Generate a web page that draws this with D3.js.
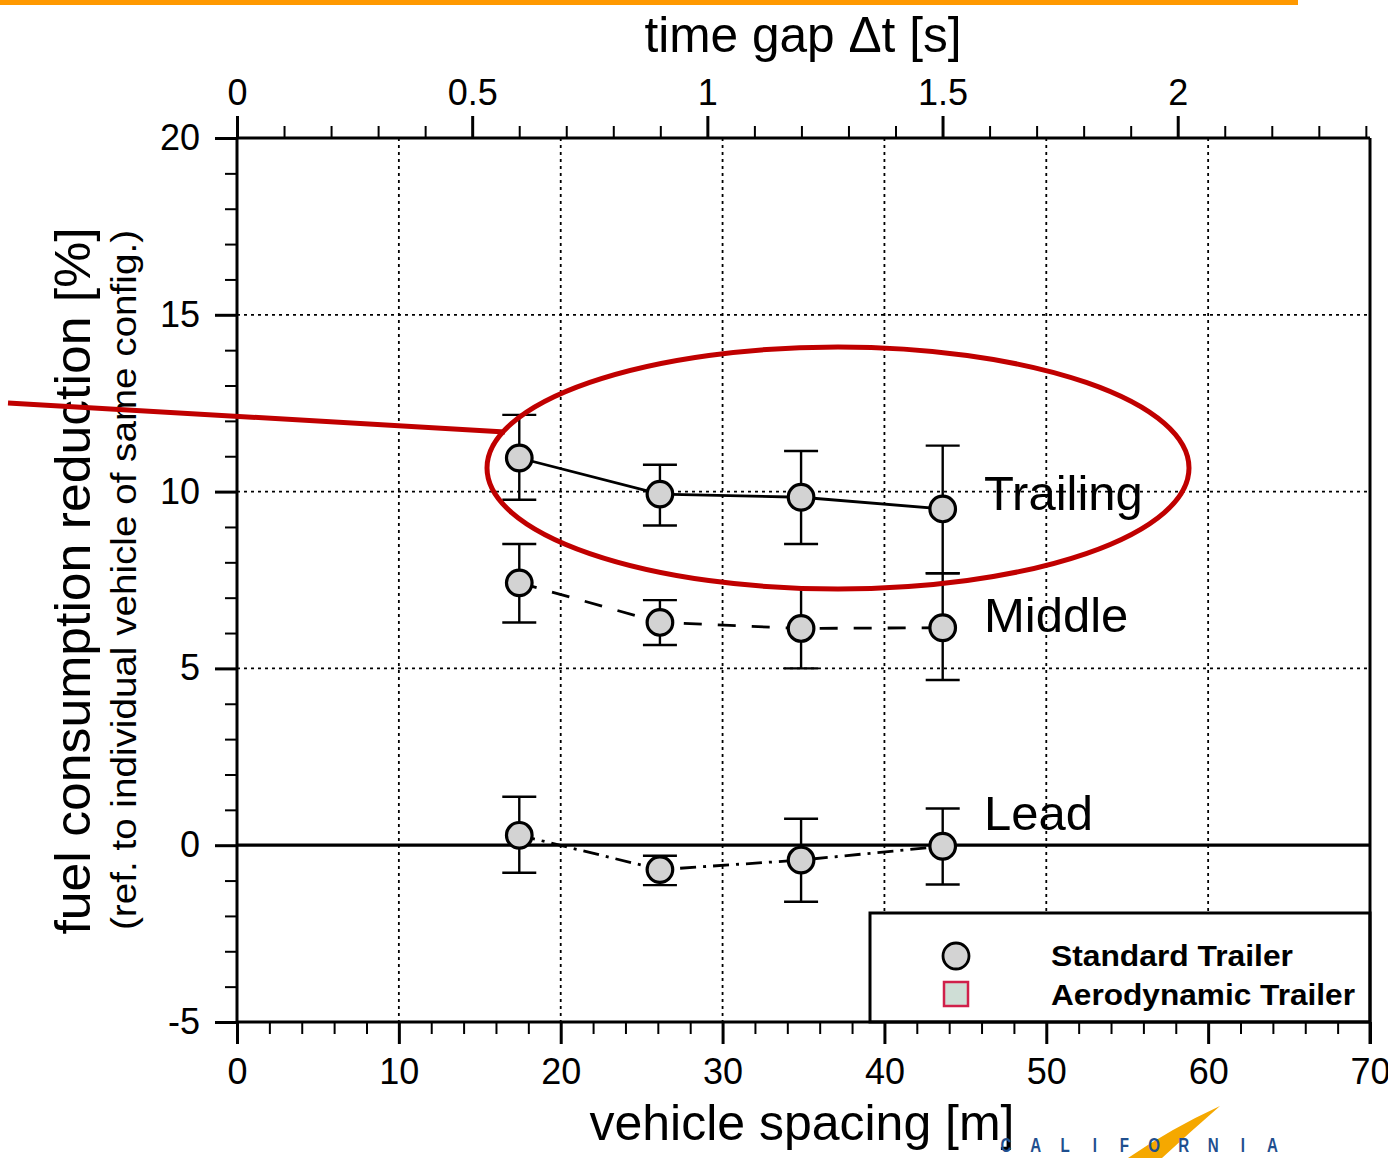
<!DOCTYPE html>
<html><head><meta charset="utf-8">
<script src="https://cdn.jsdelivr.net/npm/d3@7"></script>
<style>body{margin:0;background:#fff}svg{display:block}text{font-family:"Liberation Sans",Arial,sans-serif}</style>
</head><body>
<svg id="c" width="1388" height="1158"></svg>
<script>
// ---------- data ----------
const spacing = [17.44, 26.13, 34.85, 43.6];          // vehicle spacing [m]
const seriesNames = ["Trailing", "Middle", "Lead"];
const trailing   = [10.95, 9.93, 9.84, 9.51];
const trailingHi = [12.17, 10.76, 11.15, 11.30];
const trailingLo = [9.77, 9.04, 8.52, 7.69];
const middle   = [7.42, 6.30, 6.13, 6.15];
const middleHi = [8.52, 6.93, 7.25, 7.69];
const middleLo = [6.30, 5.66, 5.00, 4.67];
const lead   = [0.28, -0.69, -0.42, -0.03];
const leadHi = [1.37, -0.30, 0.75, 1.04];
const leadLo = [-0.78, -1.13, -1.60, -1.11];
const xTicks = [0, 10, 20, 30, 40, 50, 60, 70];
const yTicks = [-5, 0, 5, 10, 15, 20];
const tTicks = [0, 0.5, 1, 1.5, 2];
const legendLabels = ["Standard Trailer", "Aerodynamic Trailer"];
const speed = 29.06; // m/s (65 mph) relating spacing and time gap
const logoLetters = ["C","A","L","I","F","O","R","N","I","A"];

// ---------- scales ----------
const svg = d3.select("#c");
const x = d3.scaleLinear().domain([0, 70]).range([237, 1370]);
const xt = d3.scaleLinear().domain([0, 70 / speed]).range([237, 1370]);
const y = d3.scaleLinear().domain([-5, 20]).range([1022, 138]);

// top orange bar
svg.append("rect").attr("x", 0).attr("y", 0).attr("width", 1298).attr("height", 5).attr("fill", "#ff9900");

// ---------- grid ----------
const grid = svg.append("g").attr("stroke", "#000").attr("stroke-width", 1.8).attr("stroke-dasharray", "3,4");
grid.selectAll("line.v").data(xTicks.filter(d => d > 0 && d < 70)).join("line")
  .attr("x1", d => x(d)).attr("x2", d => x(d)).attr("y1", y(20)).attr("y2", y(-5));
grid.selectAll("line.h").data(yTicks.filter(d => d > 0 && d < 20)).join("line")
  .attr("x1", x(0)).attr("x2", x(70)).attr("y1", d => y(d)).attr("y2", d => y(d));

// zero line
svg.append("line").attr("x1", x(0)).attr("x2", x(70)).attr("y1", y(0)).attr("y2", y(0))
  .attr("stroke", "#000").attr("stroke-width", 3.2);

// ---------- legend box (white, above grid) ----------
svg.append("rect").attr("x", 870).attr("y", 913).attr("width", 500).attr("height", 109)
  .attr("fill", "#fff").attr("stroke", "#000").attr("stroke-width", 3);

// ---------- axes ----------
function styleAxis(g, major) {
  g.select(".domain").remove();
  g.selectAll(".tick line").attr("stroke", "#000").attr("stroke-width", major ? 3 : 2);
  g.selectAll(".tick text").attr("fill", "#000").style("font-size", "36px").style("font-family", "Liberation Sans, Arial, sans-serif");
}
const minorX = d3.range(0, 70.01, 2).filter(d => d % 10 !== 0);
const minorY = d3.range(-5, 20.01, 1).filter(d => d % 5 !== 0);
const minorT = d3.range(0, 70 / speed, 0.1).map(d => Math.round(d * 10) / 10).filter(d => Math.abs(d * 2 - Math.round(d * 2)) > 1e-6);

svg.append("g").attr("transform", `translate(0,${y(-5)})`)
  .call(d3.axisBottom(x).tickValues(minorX).tickSize(12).tickFormat("")).call(g => styleAxis(g, false));
svg.append("g").attr("transform", `translate(0,${y(-5)})`)
  .call(d3.axisBottom(x).tickValues(xTicks).tickSize(22).tickPadding(14).tickFormat(d => String(d))).call(g => styleAxis(g, true));

svg.append("g").attr("transform", `translate(${x(0)},0)`)
  .call(d3.axisLeft(y).tickValues(minorY).tickSize(12).tickFormat("")).call(g => styleAxis(g, false));
svg.append("g").attr("transform", `translate(${x(0)},0)`)
  .call(d3.axisLeft(y).tickValues(yTicks).tickSize(22).tickPadding(15).tickFormat(d => String(d))).call(g => styleAxis(g, true));

svg.append("g").attr("transform", `translate(0,${y(20)})`)
  .call(d3.axisTop(xt).tickValues(minorT).tickSize(12).tickFormat("")).call(g => styleAxis(g, false));
svg.append("g").attr("transform", `translate(0,${y(20)})`)
  .call(d3.axisTop(xt).tickValues(tTicks).tickSize(22).tickPadding(11).tickFormat(d => String(d))).call(g => styleAxis(g, true));

// frame lines
const frame = svg.append("g").attr("stroke", "#000").attr("stroke-width", 3).attr("fill", "none");
frame.append("line").attr("x1", x(0)).attr("x2", x(70)).attr("y1", y(20)).attr("y2", y(20));
frame.append("line").attr("x1", x(0)).attr("x2", x(70)).attr("y1", y(-5)).attr("y2", y(-5));
frame.append("line").attr("x1", x(0)).attr("x2", x(0)).attr("y1", y(20)).attr("y2", y(-5));
frame.append("line").attr("x1", x(70)).attr("x2", x(70)).attr("y1", y(20)).attr("y2", y(-5) + 22);

// ---------- axis titles ----------
svg.append("text").attr("x", 803).attr("y", 52).attr("text-anchor", "middle")
  .attr("font-size", 50).attr("textLength", 317).attr("lengthAdjust", "spacingAndGlyphs").text("time gap Δt [s]");
svg.append("text").attr("x", 802).attr("y", 1140).attr("text-anchor", "middle")
  .attr("font-size", 50).attr("textLength", 425).attr("lengthAdjust", "spacingAndGlyphs").text("vehicle spacing [m]");
svg.append("text").attr("transform", "translate(90,581) rotate(-90)").attr("text-anchor", "middle")
  .attr("font-size", 50).attr("textLength", 707).attr("lengthAdjust", "spacingAndGlyphs").text("fuel consumption reduction [%]");
svg.append("text").attr("transform", "translate(136,580) rotate(-90)").attr("text-anchor", "middle")
  .attr("font-size", 35).attr("textLength", 700).attr("lengthAdjust", "spacingAndGlyphs").text("(ref. to individual vehicle of same config.)");

// ---------- series ----------
const series = [
  {name: seriesNames[0], v: trailing, hi: trailingHi, lo: trailingLo, dash: null, ly: 510},
  {name: seriesNames[1], v: middle, hi: middleHi, lo: middleLo, dash: "18,16", ly: 632},
  {name: seriesNames[2], v: lead, hi: leadHi, lo: leadLo, dash: "16,7,3,7", ly: 830}
];
const line = d3.line().x((d, i) => x(spacing[i])).y(d => y(d));
series.forEach(s => {
  svg.append("path").attr("d", line(s.v)).attr("fill", "none").attr("stroke", "#000")
    .attr("stroke-width", 2.8).attr("stroke-dasharray", s.dash);
  const eb = svg.append("g").attr("stroke", "#000").attr("stroke-width", 2.4);
  s.v.forEach((v, i) => {
    const cx = x(spacing[i]);
    eb.append("line").attr("x1", cx).attr("x2", cx).attr("y1", y(s.hi[i])).attr("y2", y(s.lo[i]));
    eb.append("line").attr("x1", cx - 17).attr("x2", cx + 17).attr("y1", y(s.hi[i])).attr("y2", y(s.hi[i]));
    eb.append("line").attr("x1", cx - 17).attr("x2", cx + 17).attr("y1", y(s.lo[i])).attr("y2", y(s.lo[i]));
  });
  svg.append("g").selectAll("circle").data(s.v).join("circle")
    .attr("cx", (d, i) => x(spacing[i])).attr("cy", d => y(d)).attr("r", 12.8)
    .attr("fill", "#d3d3d3").attr("stroke", "#000").attr("stroke-width", 3.2);
  svg.append("text").attr("x", 984).attr("y", s.ly).attr("font-size", 49).text(s.name);
});

// ---------- legend ----------
svg.append("circle").attr("cx", 956).attr("cy", 956).attr("r", 13)
  .attr("fill", "#d3d3d3").attr("stroke", "#000").attr("stroke-width", 2.8);
svg.append("rect").attr("x", 944).attr("y", 982).attr("width", 24).attr("height", 24)
  .attr("fill", "#cfded6").attr("stroke", "#d0204a").attr("stroke-width", 2.5);
const legLen = [242, 304];
svg.selectAll("text.leg").data(legendLabels).join("text").attr("class", "leg")
  .attr("x", 1051).attr("y", (d, i) => 966 + i * 39).attr("font-size", 30).attr("font-weight", "bold")
  .attr("textLength", (d, i) => legLen[i]).attr("lengthAdjust", "spacingAndGlyphs").text(d => d);

// ---------- red annotation ----------
svg.append("ellipse").attr("cx", 838).attr("cy", 468).attr("rx", 351).attr("ry", 121)
  .attr("fill", "none").attr("stroke", "#c00000").attr("stroke-width", 5);
svg.append("line").attr("x1", 8).attr("y1", 403).attr("x2", 505).attr("y2", 432)
  .attr("stroke", "#c00000").attr("stroke-width", 5);

// ---------- California logo ----------
svg.append("path").attr("d", "M1128,1158 Q1172,1128 1220,1106 Q1190,1132 1162,1158 Z").attr("fill", "#f5a800");
svg.selectAll("text.logo").data(logoLetters).join("text").attr("class", "logo")
  .attr("transform", (d, i) => `translate(${1006 + i * 29.6},1152) scale(0.72,1)`).attr("text-anchor", "middle")
  .attr("font-size", 21).attr("font-weight", "bold").attr("fill", "#1f4f8f")
  .text(d => d);
</script>
</body></html>
